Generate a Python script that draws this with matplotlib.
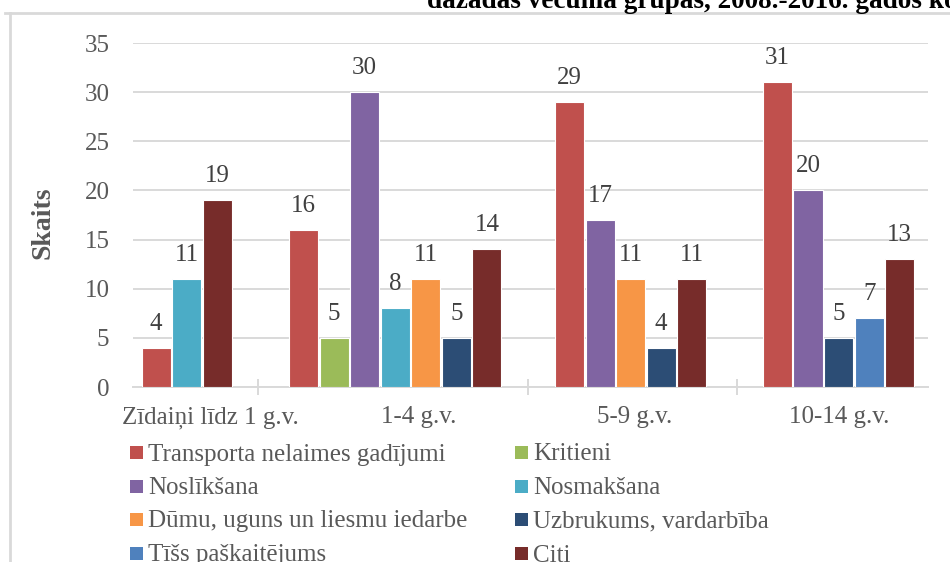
import matplotlib
matplotlib.use('Agg')
import matplotlib.pyplot as plt
from matplotlib.patches import Rectangle
from matplotlib.lines import Line2D

plt.rcParams['font.family'] = ['Liberation Serif', 'DejaVu Serif']

# Data
groups = ['Zīdaiņi līdz 1 g.v.', '1-4 g.v.', '5-9 g.v.', '10-14 g.v.']
series = ['Transporta nelaimes gadījumi', 'Kritieni', 'Noslīkšana', 'Nosmakšana',
          'Dūmu, uguns un liesmu iedarbe', 'Uzbrukums, vardarbība',
          'Tīšs paškaitējums', 'Citi']
transport = [4, 16, 29, 31]
kritieni = [0, 5, 0, 0]
noslik = [0, 30, 17, 20]
nosmak = [11, 8, 0, 0]
dumu = [0, 11, 11, 0]
uzbruk = [0, 5, 4, 5]
tiss = [0, 0, 0, 7]
citi = [19, 14, 11, 13]
values = [transport, kritieni, noslik, nosmak, dumu, uzbruk, tiss, citi]
colors = ['#C0504D', '#9BBB59', '#8064A2', '#4BACC6', '#F79646', '#2C4D75',
          '#4F81BD', '#772C2A']
title = 'dažādās vecuma grupās, 2008.-2016. gados kopā'

# layout (slot units on the x axis)
group_start = [0.28, 5.10, 13.80, 20.60]
group_sep = [4.08, 12.92, 19.74]
label_pos = [2.52, 9.35, 16.40, 23.10]
grid_c = '#D9D9D9'
text_c = '#595959'
fs = 18

W, H = 950, 562
fig = plt.figure(figsize=(W / 100, H / 100), dpi=100)

# outer chart frame
fig.add_artist(Line2D([5 / W, 1], [1 - 13 / H, 1 - 13 / H], color=grid_c, lw=2))
fig.add_artist(Line2D([10 / W, 10 / W], [0, 1 - 13 / H], color=grid_c, lw=2))

fig.text(427 / W, 1 - 8 / H, title, fontsize=19.6, fontweight='bold',
         va='baseline', ha='left', color='black')

ax = fig.add_axes([133 / W, (H - 387) / H, 795 / W, 344 / H])
ax.set_xlim(0, 26)
ax.set_ylim(0, 35)

for g in range(len(groups)):
    k = 0
    for s in range(len(series)):
        v = values[s][g]
        if v <= 0:
            continue
        x = group_start[g] + 0.475 + k
        ax.bar(x, v, width=0.95, color=colors[s], edgecolor='white', linewidth=0.8, zorder=3)
        ax.annotate(str(v), (x, v), xytext=(0, 13), textcoords='offset points',
                    ha='center', va='baseline', fontsize=fs, color='#404040')
        k += 1

ax.set_yticks(range(0, 36, 5))
ax.grid(axis='y', color=grid_c, lw=1.4, zorder=0)
ax.set_axisbelow(True)
for sp in ['top', 'right', 'left']:
    ax.spines[sp].set_visible(False)
ax.spines['bottom'].set_color(grid_c)
ax.spines['bottom'].set_linewidth(1.4)

ax.set_xticks(label_pos)
ax.set_xticklabels(groups)
ax.set_xticks(group_sep, minor=True)
ax.tick_params(axis='x', which='major', length=0, pad=14, labelsize=fs, labelcolor=text_c)
ax.tick_params(axis='x', which='minor', direction='inout', length=12, width=1.4, color=grid_c)
ax.tick_params(axis='y', length=0, pad=17, labelsize=fs, labelcolor=text_c)

fig.text(43 / W, 1 - 223 / H, 'Skaits', rotation=90, fontsize=20, fontweight='bold',
         color=text_c, ha='center', va='center')

# legend, two columns filled row by row
col_x = [130, 515]
row_y = [452, 486, 519, 553]
for i, name in enumerate(series):
    cx = col_x[i % 2]
    cy = row_y[i // 2]
    fig.add_artist(Rectangle((cx / W, 1 - (cy + 6.5) / H), 13 / W, 13 / H,
                             facecolor=colors[i], edgecolor='none'))
    fig.text((cx + 18) / W, 1 - (cy + 8.5) / H, name, fontsize=fs, color=text_c,
             va='baseline', ha='left')

fig.savefig('out.png', dpi=100)
